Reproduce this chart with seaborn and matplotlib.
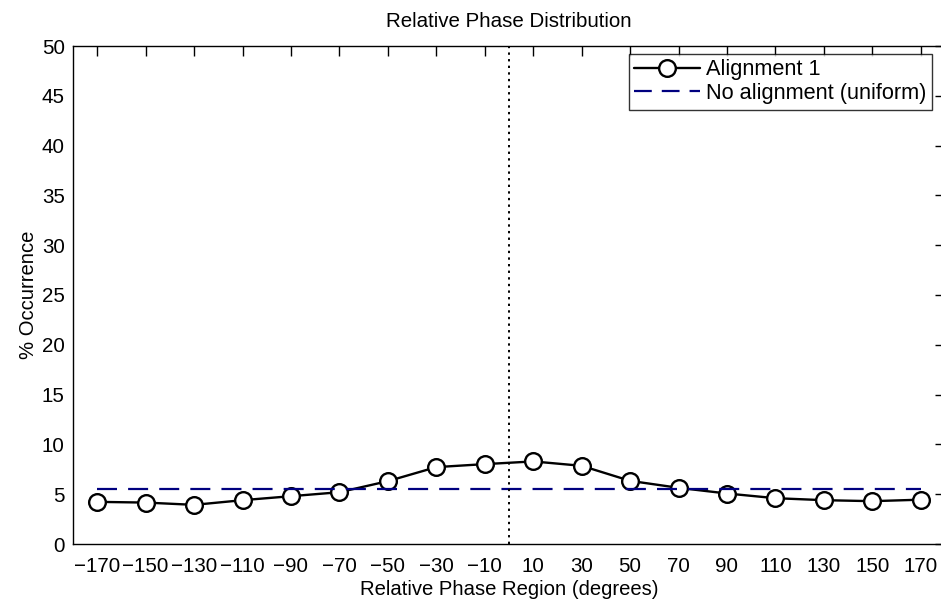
import matplotlib
matplotlib.use("Agg")
import matplotlib.pyplot as plt
import seaborn as sns
import pandas as pd

phase = [-170, -150, -130, -110, -90, -70, -50, -30, -10, 10, 30, 50, 70, 90, 110, 130, 150, 170]
occurrence = [4.23, 4.16, 3.93, 4.40, 4.80, 5.20, 6.31, 7.72, 8.02, 8.29, 7.85, 6.34, 5.64, 5.07, 4.60, 4.40, 4.30, 4.45]
uniform = [100.0 / 18] * len(phase)
xticks = phase
yticks = list(range(0, 55, 5))

sns.set_style("white")
plt.rcParams['font.family'] = ['Liberation Sans', 'DejaVu Sans']
plt.rcParams['axes.unicode_minus'] = True
plt.rcParams['text.color'] = 'black'
plt.rcParams['axes.labelcolor'] = 'black'

df = pd.DataFrame({"phase": phase, "occ": occurrence, "uni": uniform})

fig = plt.figure(figsize=(9.41, 5.99), dpi=100)
ax = fig.add_axes([73 / 941, 55 / 599, (945 - 73) / 941, (544 - 46) / 599])

sns.lineplot(data=df, x="phase", y="occ", ax=ax, color="black", lw=1.7,
             marker="o", markersize=12, markerfacecolor="white",
             markeredgecolor="black", markeredgewidth=1.7, label="Alignment 1")
sns.lineplot(data=df, x="phase", y="uni", ax=ax, color="#00007f", lw=1.6,
             label="No alignment (uniform)", dashes=False)
ax.lines[-1].set_dashes([9, 5])
ax.axvline(0, color="black", lw=1.4, ls=(0, (1.2, 2.2)))

ax.set_xlim(-180, 180)
ax.set_ylim(0, 50)
ax.set_xticks(xticks)
ax.set_xticklabels([str(v).replace("-", "\u2212") for v in xticks])
ax.set_yticks(yticks)
ax.tick_params(direction="in", length=7, width=1, top=True, right=True,
               labelsize=14.8, colors="black")
ax.tick_params(axis="x", pad=9)
ax.tick_params(axis="y", pad=6)
for s in ax.spines.values():
    s.set_visible(True)
    s.set_color("black")
    s.set_linewidth(1)

ax.set_title("Relative Phase Distribution", fontsize=14.8, pad=14, color="black")
ax.set_xlabel("Relative Phase Region (degrees)", fontsize=14.6, labelpad=3)
ax.set_ylabel("% Occurrence", fontsize=14.6, labelpad=3)

leg = ax.legend(loc="upper right", bbox_to_anchor=((932 - 73) / (945 - 73), (544 - 54) / (544 - 46)),
                fontsize=15.7, handlelength=3.0, frameon=True, fancybox=False,
                borderaxespad=0, borderpad=0.25, labelspacing=0.12, handletextpad=0.3)
leg.get_frame().set_edgecolor("black")
leg.get_frame().set_linewidth(1)
leg.legend_handles[1].set_dashes([8, 4.5])

fig.savefig("out.png", dpi=100)
